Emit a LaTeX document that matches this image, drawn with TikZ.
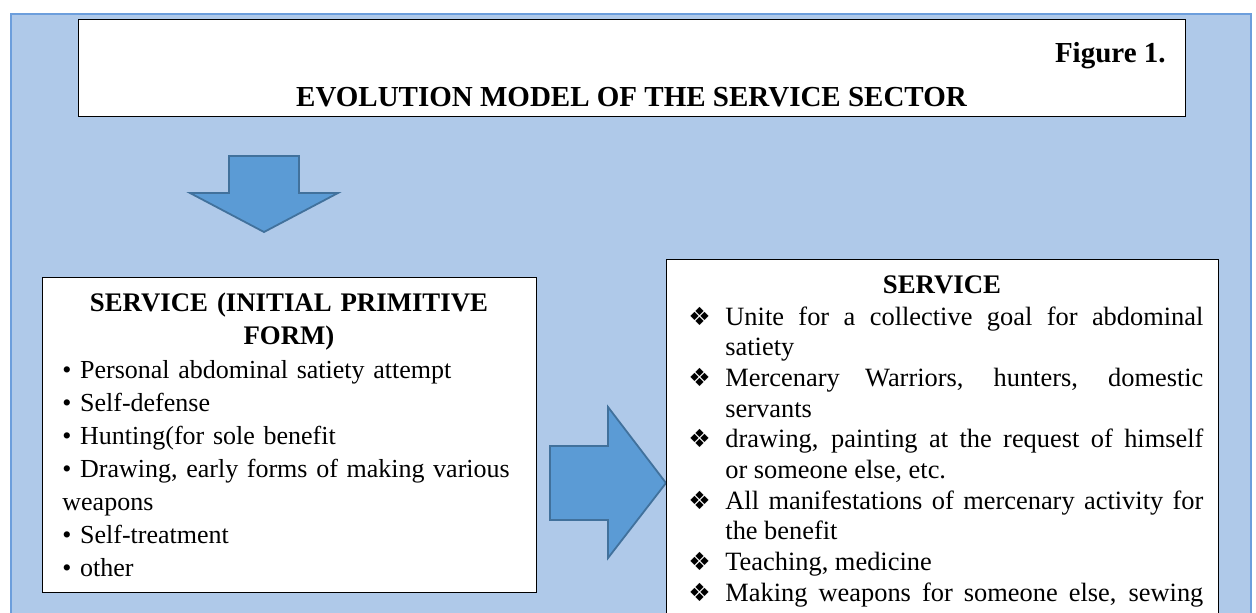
\documentclass[tikz,border=0pt]{standalone}
\usepackage{fontspec}
\setmainfont{Liberation Serif}
\newfontfamily\dingfont{DejaVu Sans}
\usetikzlibrary{positioning}

\definecolor{bgfill}{RGB}{175,201,233}
\definecolor{bgline}{RGB}{108,158,220}
\definecolor{arrowfill}{RGB}{91,155,213}
\definecolor{arrowline}{RGB}{65,113,156}

\newcommand{\titlefont}{\fontsize{14.5}{17}\selectfont\bfseries}
\newcommand{\headfont}{\fontsize{13.4}{16.5}\selectfont\bfseries}
\newcommand{\bodyfont}{\fontsize{13}{16.5}\selectfont}
\newcommand{\itemfont}{\fontsize{13.2}{15.35}\selectfont}
\newcommand{\diabullet}{\makebox[18.5pt][l]{\dingfont\fontsize{12.5}{12.5}\selectfont ❖}}
\newcommand{\diaitem}[1]{\hangindent=18.5pt\hangafter=1\noindent\diabullet#1\par}

\begin{document}
\begin{tikzpicture}[x=0.5pt,y=-0.5pt,
  panel/.style={draw=black,line width=0.7pt,fill=white,inner sep=0pt,anchor=north west},
  txt/.style={inner sep=0pt},
  bigarrow/.style={draw=arrowline,line width=0.9pt,fill=arrowfill,line join=miter}]
  \clip (0,0) rectangle (1256,612);
  \draw [draw=bgline,fill=bgfill,line width=1pt] (11,14) rectangle (1251,660);

  % title
  \node [panel,minimum width=553.5pt,minimum height=48.5pt] (titlebox) at (78,19) {};
  \node [txt,anchor=base east,font=\titlefont] (fignum) at (1166,62) {Figure 1.};
  \node [txt,anchor=base,font=\titlefont] (title) at (631.5,106) {EVOLUTION MODEL OF THE SERVICE SECTOR};

  % arrows
  \draw [bigarrow] (229,156) -- (299,156) -- (299,193) -- (338,193) -- (264,232) -- (190,193) -- (229,193) -- cycle;
  \draw [bigarrow] (550,446) -- (608,446) -- (608,407) -- (666,483) -- (608,558) -- (608,520) -- (550,520) -- cycle;

  % early form
  \node [panel,minimum width=247pt,minimum height=157.5pt] (primitive) at (42,277) {};
  \node [txt,anchor=base,text width=240pt,align=center,font=\headfont] (primhead) at (289,311) {SERVICE (INITIAL PRIMITIVE\\FORM)};
  \node [txt,anchor=base west,text width=235pt,align=left,font=\bodyfont] (primlist) at (62,378)
    {• Personal abdominal satiety attempt\\• Self-defense\\• Hunting(for sole benefit\\• Drawing, early forms of making various\\weapons\\• Self-treatment\\• other};

  % later form
  \node [panel,minimum width=276pt,minimum height=200pt] (modern) at (666,259) {};
  \node [txt,anchor=base,font=\headfont] (modhead) at (942,293) {SERVICE};
  \node [txt,anchor=base west,text width=257.5pt,align=justify,font=\itemfont] (modlist) at (688,325) {%
    \diaitem{Unite for a collective goal for abdominal\linebreak satiety}%
    \diaitem{Mercenary Warriors, hunters, domestic\linebreak servants}%
    \diaitem{drawing, painting at the request of himself\linebreak or someone else, etc.}%
    \diaitem{All manifestations of mercenary activity for\linebreak the benefit}%
    \diaitem{Teaching, medicine}%
    \diaitem{Making weapons for someone else, sewing\linebreak}};
\end{tikzpicture}
\end{document}
